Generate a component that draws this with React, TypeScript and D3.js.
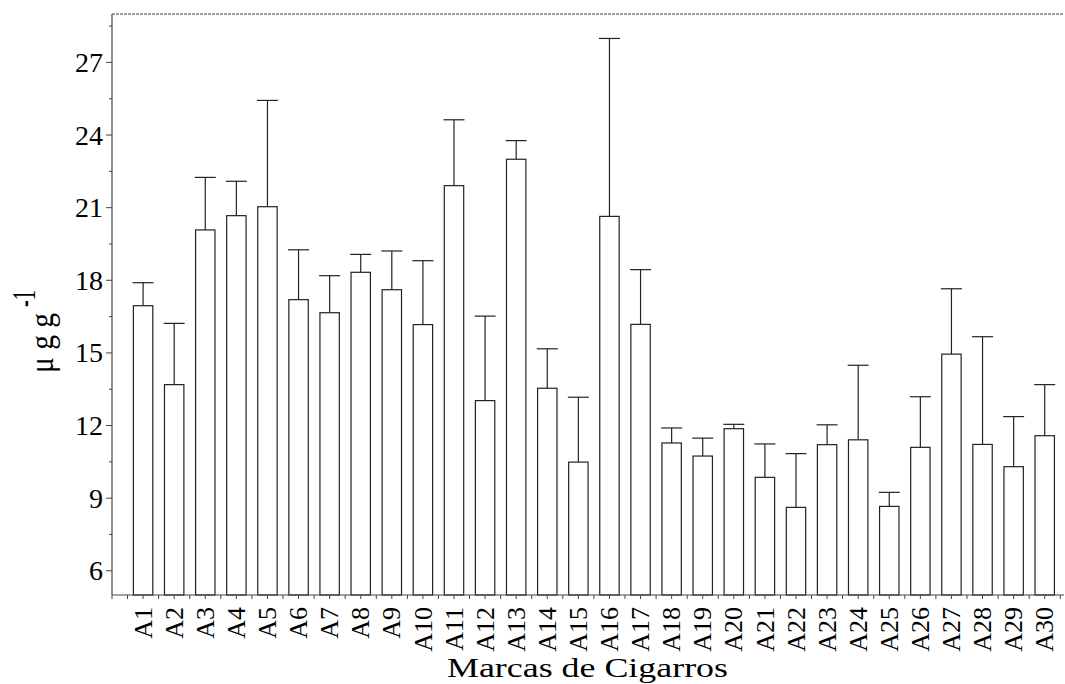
import React from "react";
import * as d3 from "d3";

const categories = ["A1","A2","A3","A4","A5","A6","A7","A8","A9","A10","A11","A12","A13","A14","A15","A16","A17","A18","A19","A20","A21","A22","A23","A24","A25","A26","A27","A28","A29","A30"];
const means = [16.95,13.69,20.08,20.67,21.04,17.2,16.66,18.33,17.61,16.17,21.91,13.03,23.0,13.54,10.49,20.64,16.18,11.28,10.74,11.87,9.86,8.62,11.21,11.41,8.66,11.1,14.95,11.22,10.3,11.58];
const upper = [17.9,16.22,22.25,22.09,25.43,19.26,18.19,19.07,19.21,18.81,24.63,16.52,23.77,15.17,13.17,27.99,18.44,11.9,11.48,12.05,11.24,10.84,12.03,14.49,9.24,13.19,17.65,15.67,12.37,13.69];
const yMajorTicks = [6, 9, 12, 15, 18, 21, 24, 27];
const yMinorTicks = [7.5, 10.5, 13.5, 16.5, 19.5, 22.5, 25.5, 28.5];

const W = 1065, H = 684;
const left = 112, right = 1064, top = 14, bottom = 595;
const font = "'Liberation Serif', 'Times New Roman', serif";

export default function App() {
  const x = d3.scaleLinear().domain([0, 30.62]).range([left, right]);
  const y = d3.scaleLinear().domain([5, 29]).range([bottom, top]);
  const xTicks = d3.range(0, 30.75, 0.5);
  const barW = 19.4;
  const capHalf = 10.5;
  return (
    <svg width={W} height={H} style={{ position: "absolute", left: 0, top: 0, background: "#fff" }}>
      <rect x={0} y={0} width={W} height={H} fill="#fff" />
      {categories.map((c, i) => {
        const cx = x(i + 1);
        return (
          <g key={c}>
            <line x1={cx} x2={cx} y1={y(means[i])} y2={y(upper[i])} stroke="#222" strokeWidth={1.2} />
            <line x1={cx - capHalf} x2={cx + capHalf} y1={y(upper[i])} y2={y(upper[i])} stroke="#222" strokeWidth={1.2} />
            <rect x={cx - barW / 2} y={y(means[i])} width={barW} height={bottom - y(means[i])} fill="#fff" stroke="#222" strokeWidth={1.2} />
          </g>
        );
      })}
      <line x1={left} x2={right} y1={top} y2={top} stroke="#444" strokeWidth={1.2} strokeDasharray="3,1" />
      <line x1={left} x2={left} y1={top} y2={bottom} stroke="#444" strokeWidth={1.2} />
      {yMajorTicks.map((t) => (
        <g key={"M" + t}>
          <line x1={left - 6} x2={left} y1={y(t)} y2={y(t)} stroke="#444" strokeWidth={1} />
          <text x={left - 9} y={y(t)} dy="0.34em" textAnchor="end" fontFamily={font} fontSize={28} fill="#000">{t}</text>
        </g>
      ))}
      {yMinorTicks.map((t) => (
        <line key={"m" + t} x1={left - 3} x2={left} y1={y(t)} y2={y(t)} stroke="#444" strokeWidth={1} />
      ))}
      <line x1={left} x2={right} y1={bottom} y2={bottom} stroke="#444" strokeWidth={1.2} />
      {xTicks.map((t) => (
        <line key={"x" + t} x1={x(t)} x2={x(t)} y1={bottom} y2={bottom + 4} stroke="#444" strokeWidth={1} />
      ))}
      {categories.map((c, i) => (
        <text key={"l" + c} transform={`translate(${x(i + 1)},607) rotate(-90)`} textAnchor="end" dy="0.33em" fontFamily={font} fontSize={26} fill="#000">{c}</text>
      ))}
      <text x={447} y={677} textLength={281} lengthAdjust="spacingAndGlyphs" fontFamily={font} fontSize={28} fill="#000">Marcas de Cigarros</text>
      <text transform="translate(53,373) rotate(-90)" textLength={60} lengthAdjust="spacingAndGlyphs" fontFamily={font} fontSize={34} fill="#000">μ g g</text>
      <text transform="translate(35,307) rotate(-90)" textLength={17} lengthAdjust="spacingAndGlyphs" fontFamily={font} fontSize={33} fill="#000">-1</text>
    </svg>
  );
}
